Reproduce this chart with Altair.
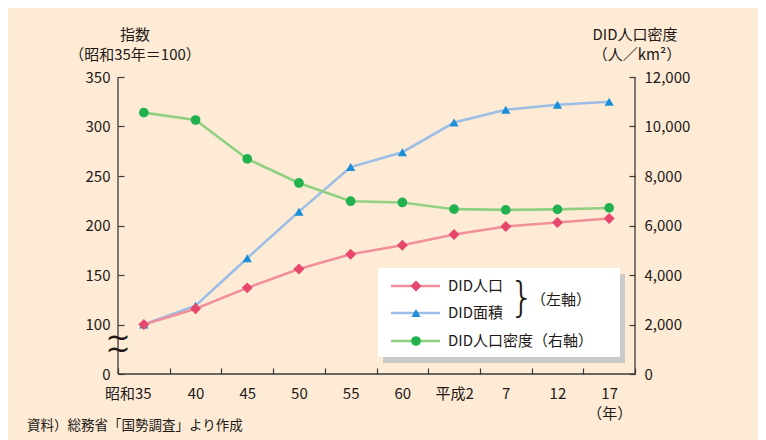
import altair as alt
import pandas as pd

years = ["昭和35", "40", "45", "50", "55", "60", "平成2", "7", "12", "17"]
pop_index = [100, 116, 137, 156, 171, 180, 191, 199, 203, 207]
area_index = [100, 119, 167, 214, 259, 274, 304, 317, 322, 325]
density = [10560, 10260, 8690, 7720, 6980, 6930, 6660, 6630, 6650, 6710]

left_tick_pos = [0, 50, 100, 150, 200, 250, 300]  # 0 and 100..350 with a break
right_ticks = [0, 2000, 4000, 6000, 8000, 10000, 12000]

W, H = 517, 297
FONT = "Noto Sans CJK JP"
BG = "#FDEBD6"
INK = "#231815"
AX = "#3a3a3a"

PINK_L, PINK_M = "#F1909A", "#E6476B"
BLUE_L, BLUE_M = "#9CBEE6", "#1A8FD8"
GREEN_L, GREEN_M = "#91D083", "#22B14F"

df = pd.DataFrame({"year": years, "pop": pop_index, "area": area_index, "dens": density})

xscale = alt.Scale(type="band", paddingInner=0, paddingOuter=0)

x_axis = alt.Axis(
    orient="bottom", offset=-6, tickSize=6, tickBand="extent", domain=False,
    labelAngle=0, labelPadding=12, labelBaseline="top", labelLineHeight=20,
    labelFontSize=15, labelColor=INK, tickColor=AX, tickWidth=1.2,
    labelExpr="datum.value === '17' ? ['17', '（年）'] : datum.label",
    labelOffset={"condition": {"test": "datum.value === '昭和35'", "value": -16}, "value": 0},
)


def xenc():
    return alt.X("year:N", sort=years, scale=xscale, bandPosition=0.5, axis=x_axis, title=None)


lscale = alt.Scale(domain=[0, 300], nice=False)
left_axis = alt.Axis(
    orient="left", values=left_tick_pos, offset=-6, tickSize=6, domain=False,
    labelPadding=8, labelFontSize=15, labelColor=INK, tickColor=AX, tickWidth=1.2,
    grid=False, title=None,
    labelExpr="datum.value === 0 ? '0' : format(datum.value + 50, 'd')",
)
right_axis = alt.Axis(
    orient="right", values=right_ticks, offset=-6, tickSize=6, domain=False,
    labelPadding=9, labelFontSize=15, labelColor=INK, tickColor=AX, tickWidth=1.2,
    labelExpr="format(datum.value, ',')", grid=False, title=None,
)

base = alt.Chart(df)

left_base = base.transform_calculate(p="datum.pop - 50", a="datum.area - 50")
pop_line = left_base.mark_line(color=PINK_L, strokeWidth=2.6).encode(
    x=xenc(), y=alt.Y("p:Q", scale=lscale, axis=left_axis))
pop_pts = left_base.mark_point(shape="diamond", filled=True, opacity=1, size=120, color=PINK_M).encode(
    x=xenc(), y=alt.Y("p:Q", scale=lscale, axis=left_axis))
area_line = left_base.mark_line(color=BLUE_L, strokeWidth=2.6).encode(
    x=xenc(), y=alt.Y("a:Q", scale=lscale, axis=left_axis))
area_pts = left_base.mark_point(shape="triangle-up", filled=True, opacity=1, size=85, color=BLUE_M).encode(
    x=xenc(), y=alt.Y("a:Q", scale=lscale, axis=left_axis))
left_group = alt.layer(area_line, pop_line, area_pts, pop_pts)

rscale = alt.Scale(domain=[0, 12000], nice=False)
dens_line = base.mark_line(color=GREEN_L, strokeWidth=2.6).encode(
    x=xenc(), y=alt.Y("dens:Q", scale=rscale, axis=right_axis))
dens_pts = base.mark_point(shape="circle", filled=True, opacity=1, size=95, color=GREEN_M).encode(
    x=xenc(), y=alt.Y("dens:Q", scale=rscale, axis=right_axis))
right_group = alt.layer(dens_line, dens_pts)

one = alt.Data(values=[{}])


def rule(**kw):
    return alt.Chart(one).mark_rule(color=AX, strokeWidth=1.3).encode(**kw)


def text(t, x, y, size=15, align="left", font=FONT, color=INK, weight="normal"):
    return alt.Chart(one).mark_text(
        text=t, align=align, baseline="middle", font=font, fontSize=size,
        color=color, fontWeight=weight,
    ).encode(x=alt.value(x), y=alt.value(y))


axes_lines = [
    rule(x=alt.value(0), y=alt.value(0), y2=alt.value(H)),
    rule(x=alt.value(W), y=alt.value(0), y2=alt.value(H)),
    rule(x=alt.value(0), x2=alt.value(W), y=alt.value(H)),
]

# legend box with shadow
lx0, ly0, lx1, ly1 = 260, 191, 502, 280
legend_box = [
    alt.Chart(one).mark_rect(color="#C9C9C9").encode(
        x=alt.value(lx0 + 5), x2=alt.value(lx1 + 5), y=alt.value(ly0 + 6), y2=alt.value(ly1 + 6)),
    alt.Chart(one).mark_rect(color="#FFFFFF").encode(
        x=alt.value(lx0), x2=alt.value(lx1), y=alt.value(ly0), y2=alt.value(ly1)),
]

rows = [
    (209, PINK_L, PINK_M, "diamond", 120, "DID人口"),
    (236, BLUE_L, BLUE_M, "triangle-up", 85, "DID面積"),
    (264, GREEN_L, GREEN_M, "circle", 95, "DID人口密度（右軸）"),
]
legend_items = []
for yy, lc, mc, shp, sz, lab in rows:
    legend_items.append(alt.Chart(one).mark_rule(color=lc, strokeWidth=2.6).encode(
        x=alt.value(273), x2=alt.value(322), y=alt.value(yy)))
    legend_items.append(alt.Chart(one).mark_point(shape=shp, filled=True, opacity=1, size=sz, color=mc).encode(
        x=alt.value(298), y=alt.value(yy)))
    legend_items.append(text(lab, 330, yy))

legend_items.append(text("}", 404, 222, size=40, align="center", font="DejaVu Sans", weight=200))
legend_items.append(text("（左軸）", 413, 223))

titles = [
    text("指数", 17, -42, size=15, align="center"),
    text("（昭和35年＝100）", 17, -22, size=15, align="center"),
    text("DID人口密度", W, -42, size=15, align="center"),
    text("（人／km²）", W + 2, -22, size=15, align="center"),
    text("資料）総務省「国勢調査」より作成", -91, 349, size=13.5),
    text("~", 0, 261, size=30, align="center", font="DejaVu Sans"),
    text("~", 0, 273, size=30, align="center", font="DejaVu Sans"),
]

chart = alt.layer(
    left_group, right_group, *axes_lines, *legend_box, *legend_items, *titles
).resolve_scale(y="independent").properties(
    width=W, height=H,
    autosize="none",
    padding={"left": 110, "top": 69, "right": 123, "bottom": 66},
    background=BG,
).configure_view(stroke=None).configure_axis(labelFont=FONT)

chart.save("out.html", embed_options={"renderer": "svg", "actions": False})
